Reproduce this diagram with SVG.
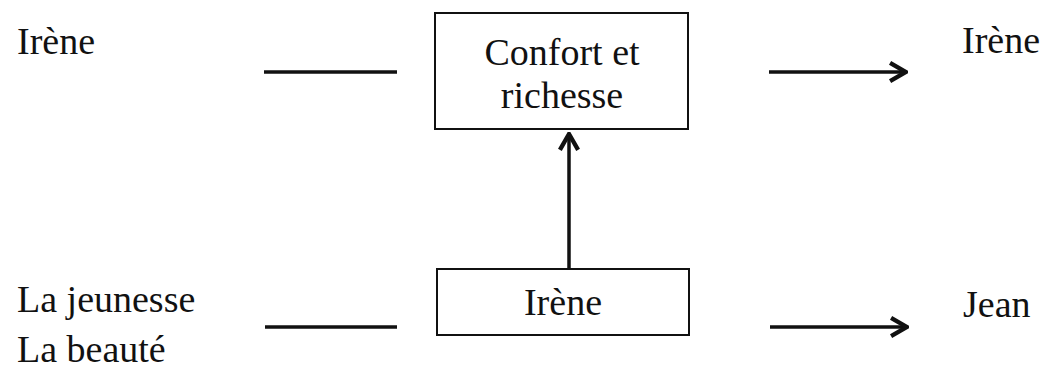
<svg xmlns="http://www.w3.org/2000/svg" width="1045" height="369" viewBox="0 0 1045 369">
<style>
text{font-family:"Liberation Serif","Times New Roman",serif;font-size:38px;fill:#111}
.box{fill:#fff;stroke:#111;stroke-width:2}
.ln{stroke:#111;stroke-width:3.5;fill:none}
.c{text-anchor:middle}
</style>
<defs>
<marker id="ah" viewBox="0 0 10 10" refX="9" refY="5" markerWidth="6.5" markerHeight="6.5" markerUnits="strokeWidth" orient="auto">
<path d="M2,1 L9,5 L2,9" fill="none" stroke="#111" stroke-width="1.9" stroke-linejoin="miter"/>
</marker>
</defs>
<rect width="1045" height="369" fill="#fff"/>
<g id="connectors">
<line class="ln" x1="264" y1="72" x2="397" y2="72"/>
<line class="ln" x1="769" y1="72" x2="906" y2="72" marker-end="url(#ah)"/>
<line class="ln" x1="265" y1="327" x2="397" y2="327"/>
<line class="ln" x1="770" y1="327" x2="907" y2="327" marker-end="url(#ah)"/>
<line class="ln" x1="569" y1="269" x2="569" y2="134" marker-end="url(#ah)"/>
</g>
<g id="label-irene-left"><text x="17" y="54">Irène</text></g>
<g id="label-jeunesse-beaute"><text x="17" y="312">La jeunesse</text><text x="17" y="362">La beauté</text></g>
<g id="node-confort">
<rect class="box" x="435" y="13" width="253" height="116"/>
<text class="c" x="562" y="65">Confort et</text>
<text class="c" x="562" y="108">richesse</text>
</g>
<g id="node-irene">
<rect class="box" x="437" y="269" width="252" height="66"/>
<text class="c" x="563" y="315">Irène</text>
</g>
<g id="label-irene-right"><text x="962" y="53">Irène</text></g>
<g id="label-jean"><text x="963" y="317">Jean</text></g>
</svg>
